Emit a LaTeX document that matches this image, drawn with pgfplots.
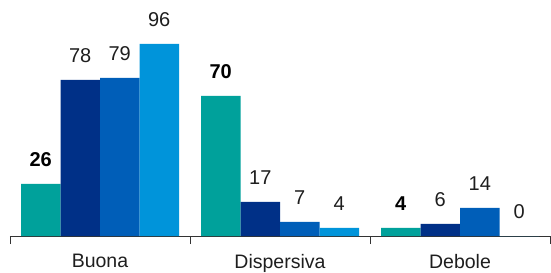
\documentclass[border=0pt]{standalone}
\usepackage{fontspec}
\setmainfont{Liberation Sans}
\usepackage{pgfplots}
\pgfplotsset{compat=1.18}
\definecolor{cteal}{RGB}{0,161,155}
\definecolor{cnavy}{RGB}{0,48,135}
\definecolor{cmid}{RGB}{0,94,184}
\definecolor{clight}{RGB}{0,148,218}
\definecolor{ctext}{RGB}{30,30,30}
\begin{document}
\begin{tikzpicture}
\useasboundingbox (-10bp,-37bp) rectangle (541bp,236bp);
\begin{axis}[
  scale only axis, width=540bp, height=236bp,
  xmin=-0.5, xmax=2.5, ymin=0, ymax=118,
  axis x line=bottom, axis y line=none, ytick=\empty,
  x axis line style={-, line width=0.8bp, color=black!80},
  ybar=0pt, bar width=39.5bp,
  xtick={0,1,2}, xticklabels={Buona,Dispersiva,Debole},
  major tick length=0pt,
  minor xtick={-0.5,0.5,1.5,2.5},
  minor tick length=8bp, tick align=outside,
  minor x tick style={line width=0.8bp, color=black!80},
  xticklabel style={font=\fontsize{19.5bp}{24bp}\selectfont, text=ctext, anchor=north, inner sep=0pt, yshift=-18bp},
  /pgf/number format/assume math mode=true,
  nodes near coords,
  nodes near coords style={font=\fontsize{20bp}{24bp}\selectfont, anchor=south, inner sep=0pt, yshift=17bp, text=ctext},
  clip=false,
]
\addplot[fill=cteal, draw=none, every node near coord/.append style={font=\fontsize{20bp}{24bp}\selectfont\bfseries, text=black}] coordinates {(0,26) (1,70) (2,4)};
\addplot[fill=cnavy, draw=none] coordinates {(0,78) (1,17) (2,6)};
\addplot[fill=cmid, draw=none] coordinates {(0,79) (1,7) (2,14)};
\addplot[fill=clight, draw=none] coordinates {(0,96) (1,4) (2,0)};
\end{axis}
\end{tikzpicture}
\end{document}
